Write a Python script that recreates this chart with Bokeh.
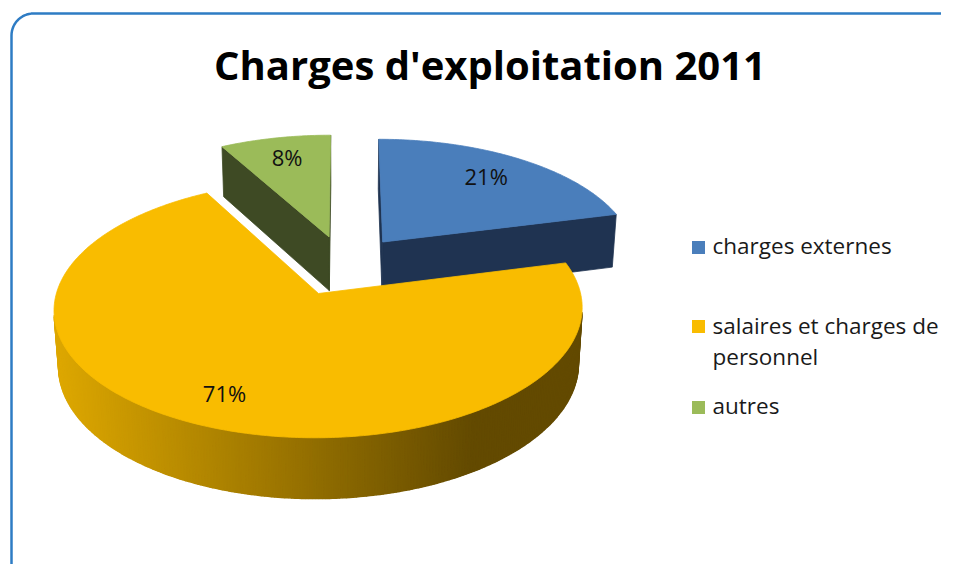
import numpy as np
from bokeh.plotting import figure
from bokeh.models import Range1d, ColumnDataSource
from bokeh.embed import file_html
from bokeh.resources import INLINE
from bokeh.core.properties import value

# ---------------- data ----------------
chart_title = "Charges d'exploitation 2011"
categories = ["charges externes", "salaires et charges de personnel", "autres"]
legend_lines = [["charges externes"], ["salaires et charges de", "personnel"], ["autres"]]
shares = [21, 71, 8]            # percent
share_labels = ["21%", "71%", "8%"]

# ---------------- style ----------------
FONT = "Open Sans"
top_colors = ["#4A7EBB", "#F9BC00", "#9BBB59"]
cut_colors = ["#1F3351", "#7A5C00", "#3E4A24"]
side_grad = [("#3D6396", "#1F3351"), ("#DEA800", "#634A00"), ("#7E9A48", "#3E4A24")]
border_color = "#2E7CC4"

W, H = 941, 564
PX0, PY0 = 0, 0                      # picture offset of the figure

# 3D projection (picture pixel space)
CX, CY = 344.0, 264.7
K, A, KY = 255.0, 120.0, 225.0
E, EY = 0.118, 0.063
EXPLODE = 0.25
DEPTH = 0.247
LABEL_R = [0.74, 0.80, 0.76]

# legend layout (picture px)
LEG_SQ_X, LEG_TX_X, LEG_SQ = 698, 712, 13
legend_sq_y = [247, 326, 407]
legend_baselines = [245, 325, 405]
LEG_LINE = 31


def proj(X, Y, Z):
    w = 1.0 + E * Z - EY * Y
    return CX + K * X / w, CY - (A * Z + KY * Y) / w


cam_z = -1.0 / (E + EY * A / KY)
cam_y = -A * cam_z / KY
cam = np.array([0.0, cam_y, cam_z])


def hex2rgb(h):
    h = h.lstrip("#")
    return np.array([int(h[i:i + 2], 16) for i in (0, 2, 4)], dtype=float)


def mix(c1, c2, t):
    c = hex2rgb(c1) * (1 - t) + hex2rgb(c2) * t
    return "#%02x%02x%02x" % tuple(int(round(v)) for v in c)


p = figure(width=W, height=H, output_backend="svg", toolbar_location=None,
           x_range=Range1d(PX0, PX0 + W), y_range=Range1d(PY0 + H, PY0),
           x_axis_location=None, y_axis_location=None, min_border=0,
           background_fill_color="white", border_fill_color="white")
p.outline_line_color = None
p.xgrid.visible = False
p.ygrid.visible = False

# ---- rounded border ----
def rounded_rect(x0, y0, x1, y1, r, n=16):
    pts = []
    for (cx, cy, a0) in ((x0 + r, y0 + r, 180), (x1 - r, y0 + r, 270),
                         (x1 - r, y1 - r, 0), (x0 + r, y1 - r, 90)):
        for a in np.linspace(np.radians(a0), np.radians(a0 + 90), n):
            pts.append((cx + r * np.cos(a), cy + r * np.sin(a)))
    pts.append(pts[0])
    return [q[0] for q in pts], [q[1] for q in pts]

bx, by = rounded_rect(11, 13, 968, 594, 22)
p.line(bx, by, line_color=border_color, line_width=2.5)

# ---- 3D pie ----
total = float(sum(shares))
bounds = np.concatenate([[0], np.cumsum(shares)]) / total * 2 * np.pi

slices = []
for i in range(len(shares)):
    a0, a1 = bounds[i], bounds[i + 1]
    m = 0.5 * (a0 + a1)
    slices.append((i, a0, a1, m, EXPLODE * np.sin(m), EXPLODE * np.cos(m)))

order = sorted(slices, key=lambda s: -s[5])

xs, ys, fills, lws = [], [], [], []

def add(poly, color, lw):
    xs.append([q[0] for q in poly])
    ys.append([q[1] for q in poly])
    fills.append(color)
    lws.append(lw)

for (i, a0, a1, m, dX, dZ) in order:
    n = max(8, int(np.degrees(a1 - a0) * 1.5))
    th = np.linspace(a0, a1, n)

    def rim(t, Y, dX=dX, dZ=dZ):
        return proj(dX + np.sin(t), Y, dZ + np.cos(t))

    apex_t = proj(dX, 0, dZ)
    apex_b = proj(dX, -DEPTH, dZ)
    # radial cut faces
    for ang, sgn in ((a0, -1.0), (a1, 1.0)):
        nrm = sgn * np.array([np.cos(ang), 0.0, -np.sin(ang)])
        P = np.array([dX + 0.5 * np.sin(ang), -DEPTH / 2, dZ + 0.5 * np.cos(ang)])
        if np.dot(nrm, cam - P) > 0:
            add([apex_t, rim(ang, 0), rim(ang, -DEPTH), apex_b], cut_colors[i], 0.8)
    # outer curved side
    side = []
    for j in range(n - 1):
        tm = 0.5 * (th[j] + th[j + 1])
        nrm = np.array([np.sin(tm), 0.0, np.cos(tm)])
        P = np.array([dX + np.sin(tm), -DEPTH / 2, dZ + np.cos(tm)])
        if np.dot(nrm, cam - P) > 0:
            side.append([rim(th[j], 0), rim(th[j + 1], 0),
                         rim(th[j + 1], -DEPTH), rim(th[j], -DEPTH)])
    if side:
        allx = [pt[0] for q in side for pt in q]
        xl, xr = min(allx), max(allx)
        for q in side:
            xm = np.mean([pt[0] for pt in q])
            t = float(np.clip((xm - xl) / (0.79 * (xr - xl)), 0, 1))
            add(q, mix(side_grad[i][0], side_grad[i][1], t), 1.6)
    # top face
    add([apex_t] + [rim(t, 0) for t in th], top_colors[i], 0.8)

src = ColumnDataSource(dict(xs=xs, ys=ys, fill=fills, lw=lws))
p.patches("xs", "ys", source=src, fill_color="fill", line_color="fill", line_width="lw")

# ---- slice labels ----
lx, ly = [], []
for (i, a0, a1, m, dX, dZ) in slices:
    r = LABEL_R[i]
    x, y = proj(dX + r * np.sin(m), 0, dZ + r * np.cos(m))
    lx.append(x)
    ly.append(y - 3)
p.text(lx, ly, text=share_labels, text_font=value(FONT), text_font_size="22px",
       text_align="center", text_baseline="middle", text_color="#111111")

# ---- title ----
p.text([489.5], [64], text=[chart_title], text_font=value(FONT), text_font_size="40px",
       text_font_style="bold", text_align="center", text_baseline="alphabetic",
       text_color="#000000")

# ---- legend ----
p.rect([LEG_SQ_X] * len(categories), legend_sq_y,
       width=LEG_SQ, height=LEG_SQ, fill_color=top_colors, line_color=None)
tx, ty, tt = [], [], []
for k, lines in enumerate(legend_lines):
    for j, line in enumerate(lines):
        tx.append(LEG_TX_X)
        ty.append(legend_baselines[k] + j * LEG_LINE)
        tt.append(line)
p.text(tx, ty, text=tt, text_font=value(FONT), text_font_size="22.5px",
       text_align="left", text_baseline="alphabetic", text_color="#1A1A1A")

open("out.html", "w").write(file_html(p, INLINE))
